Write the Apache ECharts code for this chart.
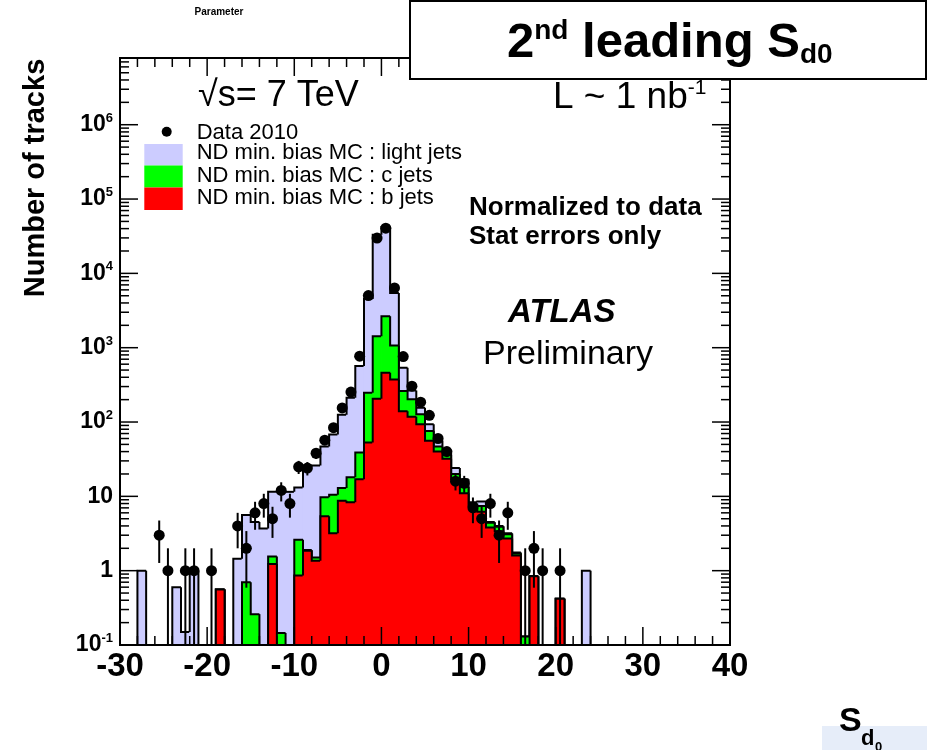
<!DOCTYPE html>
<html><head><meta charset="utf-8">
<script src="https://cdn.jsdelivr.net/npm/echarts@6/dist/echarts.min.js"></script>
<style>html,body{margin:0;padding:0;background:#fff;}#c{width:927px;height:750px;}</style>
</head><body><div id="c"></div>
<script>
// ---- histogram bins (lower edges, width 1) ----
const binWidth = 1;
const binLow = [-28,-27,-26,-25,-24,-23,-22,-21,-20,-19,-18,-17,-16,-15,-14,-13,-12,-11,-10,-9,-8,-7,-6,-5,-4,-3,-2,-1,0,1,2,3,4,5,6,7,8,9,10,11,12,13,14,15,16,17,18,19,20,21,22,23,24];
// stacked MC tops: light+c+b, c+b, b
const mcTotal = [1.0,0,0,0,0.6,0.15,1.0,0,0,0.56,0,1.45,5.6,4.5,3.7,11.5,11.5,11.5,13.2,25,26,47,68,125,212,565,4530,33000,42000,5460,537,265,156,93,56,42,24,17,8.3,8.5,4.5,4.0,3.2,1.75,0.13,0.84,0,0,0.42,0,0,1.0,0];
const mcCB    = [0,0,0,0,0,0,0,0,0,0.56,0,0,0.7,0.26,0,1.55,0.145,0,2.6,1.9,1.5,9.7,10.5,13,18,39,248,1430,2650,1070,261,202,127,76,47,36,20,13.5,8,7.4,4.4,3.9,3.1,1.7,0.13,0.84,0,0,0.42,0,0,0,0];
const mcB     = [0,0,0,0,0,0,0,0,0,0.56,0,0,0,0,0,1.23,0,0,0.86,1.85,1.36,5.4,3.2,8.7,8.3,17,53,206,460,374,140,118,93,56,40,32,17,11,7.5,6.2,3.8,3.4,2.7,1.6,0,0.84,0,0,0.42,0,0,0,0];
// ---- data 2010 ----
const dataX = [-25.5,-24.5,-22.5,-21.5,-19.5,-16.5,-15.5,-14.5,-13.5,-12.5,-11.5,-10.5,-9.5,-8.5,-7.5,-6.5,-5.5,-4.5,-3.5,-2.5,-1.5,-0.5,0.5,1.5,2.5,3.5,4.5,5.5,6.5,7.5,8.5,9.5,10.5,11.5,12.5,13.5,14.5,16.5,17.5,18.5,20.5];
const dataY = [3,1,1,1,1,4,2,6,8,5,12,8,25,24,38,57,84,155,253,769,5020,29900,40600,6370,760,304,185,123,60,40,16,15,7,5,8,3,6,1,2,1,1];
const dataErr = [1.73,1,1,1,1,2,1.41,2.45,2.83,2.24,3.46,2.83,5,4.9,6.16,7.55,9.17,12.4,15.9,27.7,70.9,173,201,79.8,27.6,17.4,13.6,11.1,7.75,6.32,4,3.87,2.65,2.24,2.83,1.73,2.45,1,1.41,1,1];
// ---- axes ----
const xTicks = [-30,-20,-10,0,10,20,30,40];
const yTicks = [0.1,1,10,100,1000,10000,100000,1000000];
const xMin = -30, xMax = 40, yMin = 0.1, yMax = 7.9e6;

const F = 'Liberation Sans';
const LIGHT = '#ccccff', GREEN = '#00ff00', RED = '#ff0000';

function histSeries(name, values, color) {
  const data = binLow.map((lo, i) => [lo, lo + binWidth, values[i], i > 0 ? values[i - 1] : 0]);
  return {
    type: 'custom', name, data, encode: {x: [0, 1], y: 2}, clip: true, z: 2,
    renderItem(params, api) {
      const cs = params.coordSys;
      const bottom = cs.y + cs.height;
      const lo = api.value(0), hi = api.value(1), v = api.value(2), pv = api.value(3);
      const x0 = api.coord([lo, 1])[0], x1 = api.coord([hi, 1])[0];
      const yv = v > 0 ? api.coord([lo, v])[1] : bottom;
      const yp = pv > 0 ? api.coord([lo, pv])[1] : bottom;
      const ch = [];
      if (v > 0) ch.push({type: 'rect', shape: {x: x0 - 0.4, y: yv, width: x1 - x0 + 0.8, height: bottom - yv}, style: {fill: color}});
      ch.push({type: 'polyline', shape: {points: v > 0 ? [[x0, yp], [x0, yv], [x1, yv]] : [[x0, yp], [x0, yv]]}, style: {stroke: '#000', lineWidth: 2, fill: null}});
      return {type: 'group', children: ch};
    }
  };
}

// tick lists
const xTickData = [];
xTicks.forEach((t, i) => {
  xTickData.push([t, 1, 18]);
  if (i < xTicks.length - 1) for (let k = 2; k < 10; k += 2) xTickData.push([t + k, 1, 9]);
});
const yTickData = [];
yTicks.forEach(t => {
  yTickData.push([xMin, t, 18]);
  for (let k = 2; k <= 9; k++) { const v = t * k; if (v < yMax) yTickData.push([xMin, v, 9]); }
});

const chart = echarts.init(document.getElementById('c'), null, {renderer: 'canvas'});
chart.setOption({
  animation: false,
  backgroundColor: '#fff',
  grid: {left: 120, top: 58, width: 610, height: 587, containLabel: false},
  xAxis: {
    type: 'value', min: xMin, max: xMax, interval: 10,
    axisLine: {show: false}, axisTick: {show: false}, splitLine: {show: false},
    axisLabel: {show: true, showMinLabel: true, showMaxLabel: true, margin: 2, color: '#000',
      fontFamily: F, fontSize: 33, fontWeight: 'bold', lineHeight: 40}
  },
  yAxis: {
    type: 'log', logBase: 10, min: yMin, max: yMax, splitNumber: 8,
    axisLine: {show: false}, axisTick: {show: false}, splitLine: {show: false},
    axisLabel: {
      margin: 7, color: '#000',
      formatter: function (v) {
        const l = Math.log10(v), e = Math.round(l);
        if (Math.abs(l - e) > 1e-6 || e > 6) return '';
        if (e === 0) return '{b|1}';
        if (e === 1) return '{b|10}';
        return '{b|10}{s|' + e + '}';
      },
      rich: {
        b: {fontFamily: F, fontSize: 23, fontWeight: 'bold', lineHeight: 26, verticalAlign: 'middle', color: '#000'},
        s: {fontFamily: F, fontSize: 13, fontWeight: 'bold', lineHeight: 19, verticalAlign: 'top', color: '#000'}
      }
    }
  },
  series: [
    histSeries('ND min. bias MC : light jets', mcTotal, LIGHT),
    histSeries('ND min. bias MC : c jets', mcCB, GREEN),
    histSeries('ND min. bias MC : b jets', mcB, RED),
    {
      type: 'custom', name: 'ticksX', data: xTickData, encode: {x: 0, y: 1}, z: 5, silent: true,
      renderItem(params, api) {
        const cs = params.coordSys;
        const x = api.coord([api.value(0), 1])[0], len = api.value(2);
        const b = cs.y + cs.height;
        return {type: 'group', children: [
          {type: 'line', shape: {x1: x, y1: b, x2: x, y2: b - len}, style: {stroke: '#000', lineWidth: 1.5}},
          {type: 'line', shape: {x1: x, y1: cs.y, x2: x, y2: cs.y + len}, style: {stroke: '#000', lineWidth: 1.5}}
        ]};
      }
    },
    {
      type: 'custom', name: 'ticksY', data: yTickData, encode: {x: 0, y: 1}, z: 5, silent: true,
      renderItem(params, api) {
        const cs = params.coordSys;
        const y = api.coord([xMin, api.value(1)])[1], len = api.value(2);
        const r = cs.x + cs.width;
        return {type: 'group', children: [
          {type: 'line', shape: {x1: cs.x, y1: y, x2: cs.x + len, y2: y}, style: {stroke: '#000', lineWidth: 1.5}},
          {type: 'line', shape: {x1: r, y1: y, x2: r - len, y2: y}, style: {stroke: '#000', lineWidth: 1.5}}
        ]};
      }
    },
    {
      type: 'custom', name: 'errors', data: dataX.map((x, i) => [x, dataY[i], dataErr[i]]),
      encode: {x: 0, y: 1}, z: 6, clip: true,
      renderItem(params, api) {
        const cs = params.coordSys;
        const x = api.value(0), y = api.value(1), e = api.value(2);
        const top = api.coord([x, y + e]);
        const lowY = (y - e) > 0 ? api.coord([x, y - e])[1] : cs.y + cs.height;
        return {type: 'line', shape: {x1: top[0], y1: top[1], x2: top[0], y2: lowY}, style: {stroke: '#000', lineWidth: 2}};
      }
    },
    {
      type: 'scatter', name: 'Data 2010', data: dataX.map((x, i) => [x, dataY[i]]),
      symbol: 'circle', symbolSize: 11, itemStyle: {color: '#000', opacity: 1}, z: 7
    }
  ],
  graphic: [
    // plot frame
    {type: 'rect', z: 100, shape: {x: 120, y: 58, width: 610, height: 587}, style: {fill: null, stroke: '#000', lineWidth: 2}},
    // title box
    {type: 'rect', z: 200, shape: {x: 410, y: 1, width: 516, height: 78}, style: {fill: '#fff', stroke: '#000', lineWidth: 2}},
    {type: 'text', z: 210, x: 507, y: 43.5, style: {
      text: '{a|2}{p|nd}{a| leading S}{s|d0}', align: 'left', verticalAlign: 'middle', textAlign: 'left', textVerticalAlign: 'middle',
      rich: {
        a: {fontFamily: F, fontSize: 49, fontWeight: 'bold', lineHeight: 52, verticalAlign: 'middle', fill: '#000', color: '#000'},
        p: {fontFamily: F, fontSize: 28, fontWeight: 'bold', lineHeight: 36, verticalAlign: 'top', fill: '#000', color: '#000'},
        s: {fontFamily: F, fontSize: 28, fontWeight: 'bold', lineHeight: 20, verticalAlign: 'bottom', fill: '#000', color: '#000'}
      }}},
    // top-left fragment
    {type: 'text', z: 210, x: 219, y: 12, style: {text: 'Parameter', fontFamily: F, fontSize: 10, fontWeight: 'bold', fill: '#000', align: 'center', verticalAlign: 'middle', textAlign: 'center', textVerticalAlign: 'middle'}},
    // energy / lumi
    {type: 'text', z: 150, x: 198, y: 96.5, style: {text: '\u221As= 7 TeV', fontFamily: F, fontSize: 36, fill: '#000', align: 'left', verticalAlign: 'middle', textAlign: 'left', textVerticalAlign: 'middle'}},
    {type: 'text', z: 150, x: 553, y: 98, style: {
      text: '{a|L ~ 1 nb}{p|-1}', align: 'left', verticalAlign: 'middle', textAlign: 'left', textVerticalAlign: 'middle',
      rich: {
        a: {fontFamily: F, fontSize: 37, lineHeight: 40, verticalAlign: 'middle', fill: '#000', color: '#000'},
        p: {fontFamily: F, fontSize: 21, lineHeight: 22, verticalAlign: 'top', fill: '#000', color: '#000'}
      }}},
    // legend
    {type: 'circle', z: 150, shape: {cx: 166.7, cy: 131.7, r: 5}, style: {fill: '#000'}},
    {type: 'rect', z: 150, shape: {x: 144.3, y: 144, width: 38.4, height: 21.5}, style: {fill: LIGHT}},
    {type: 'rect', z: 150, shape: {x: 144.3, y: 165.5, width: 38.4, height: 22}, style: {fill: GREEN}},
    {type: 'rect', z: 150, shape: {x: 144.3, y: 187.5, width: 38.4, height: 22.5}, style: {fill: RED}},
    {type: 'text', z: 150, x: 196.7, y: 132.5, style: {text: 'Data 2010', fontFamily: F, fontSize: 22, fill: '#000', align: 'left', verticalAlign: 'middle', textAlign: 'left', textVerticalAlign: 'middle'}},
    {type: 'text', z: 150, x: 196.7, y: 153, style: {text: 'ND min. bias MC : light jets', fontFamily: F, fontSize: 22, fill: '#000', align: 'left', verticalAlign: 'middle', textAlign: 'left', textVerticalAlign: 'middle'}},
    {type: 'text', z: 150, x: 196.7, y: 175.5, style: {text: 'ND min. bias MC : c jets', fontFamily: F, fontSize: 22, fill: '#000', align: 'left', verticalAlign: 'middle', textAlign: 'left', textVerticalAlign: 'middle'}},
    {type: 'text', z: 150, x: 196.7, y: 197.8, style: {text: 'ND min. bias MC : b jets', fontFamily: F, fontSize: 22, fill: '#000', align: 'left', verticalAlign: 'middle', textAlign: 'left', textVerticalAlign: 'middle'}},
    // annotations
    {type: 'text', z: 150, x: 469, y: 208, style: {text: 'Normalized to data', fontFamily: F, fontSize: 26, fontWeight: 'bold', fill: '#000', align: 'left', verticalAlign: 'middle', textAlign: 'left', textVerticalAlign: 'middle'}},
    {type: 'text', z: 150, x: 469, y: 236.5, style: {text: 'Stat errors only', fontFamily: F, fontSize: 26, fontWeight: 'bold', fill: '#000', align: 'left', verticalAlign: 'middle', textAlign: 'left', textVerticalAlign: 'middle'}},
    {type: 'text', z: 150, x: 508, y: 313, style: {text: 'ATLAS', fontFamily: F, fontSize: 33, fontWeight: 'bold', fontStyle: 'italic', fill: '#000', align: 'left', verticalAlign: 'middle', textAlign: 'left', textVerticalAlign: 'middle'}},
    {type: 'text', z: 150, x: 483, y: 354.5, style: {text: 'Preliminary', fontFamily: F, fontSize: 34, fill: '#000', align: 'left', verticalAlign: 'middle', textAlign: 'left', textVerticalAlign: 'middle'}},
    // axis titles
    {type: 'text', z: 150, x: 36, y: 178, rotation: Math.PI / 2, style: {text: 'Number of tracks', fontFamily: F, fontSize: 29, fontWeight: 'bold', fill: '#000', align: 'center', verticalAlign: 'middle', textAlign: 'center', textVerticalAlign: 'middle'}},
    {type: 'text', z: 150, x: 839, y: 722, style: {text: 'S', fontFamily: F, fontSize: 34, fontWeight: 'bold', fill: '#000', align: 'left', verticalAlign: 'middle', textAlign: 'left', textVerticalAlign: 'middle'}},
    {type: 'text', z: 150, x: 861, y: 739, style: {text: 'd', fontFamily: F, fontSize: 22, fontWeight: 'bold', fill: '#000', align: 'left', verticalAlign: 'middle', textAlign: 'left', textVerticalAlign: 'middle'}},
    {type: 'text', z: 150, x: 875, y: 747, style: {text: '0', fontFamily: F, fontSize: 13, fontWeight: 'bold', fill: '#000', align: 'left', verticalAlign: 'middle', textAlign: 'left', textVerticalAlign: 'middle'}},
    // slide decoration bottom-right
    {type: 'rect', z: 50, shape: {x: 822, y: 726, width: 105, height: 24}, style: {fill: '#e6edf9'}}
  ]
});
</script>
</body></html>
